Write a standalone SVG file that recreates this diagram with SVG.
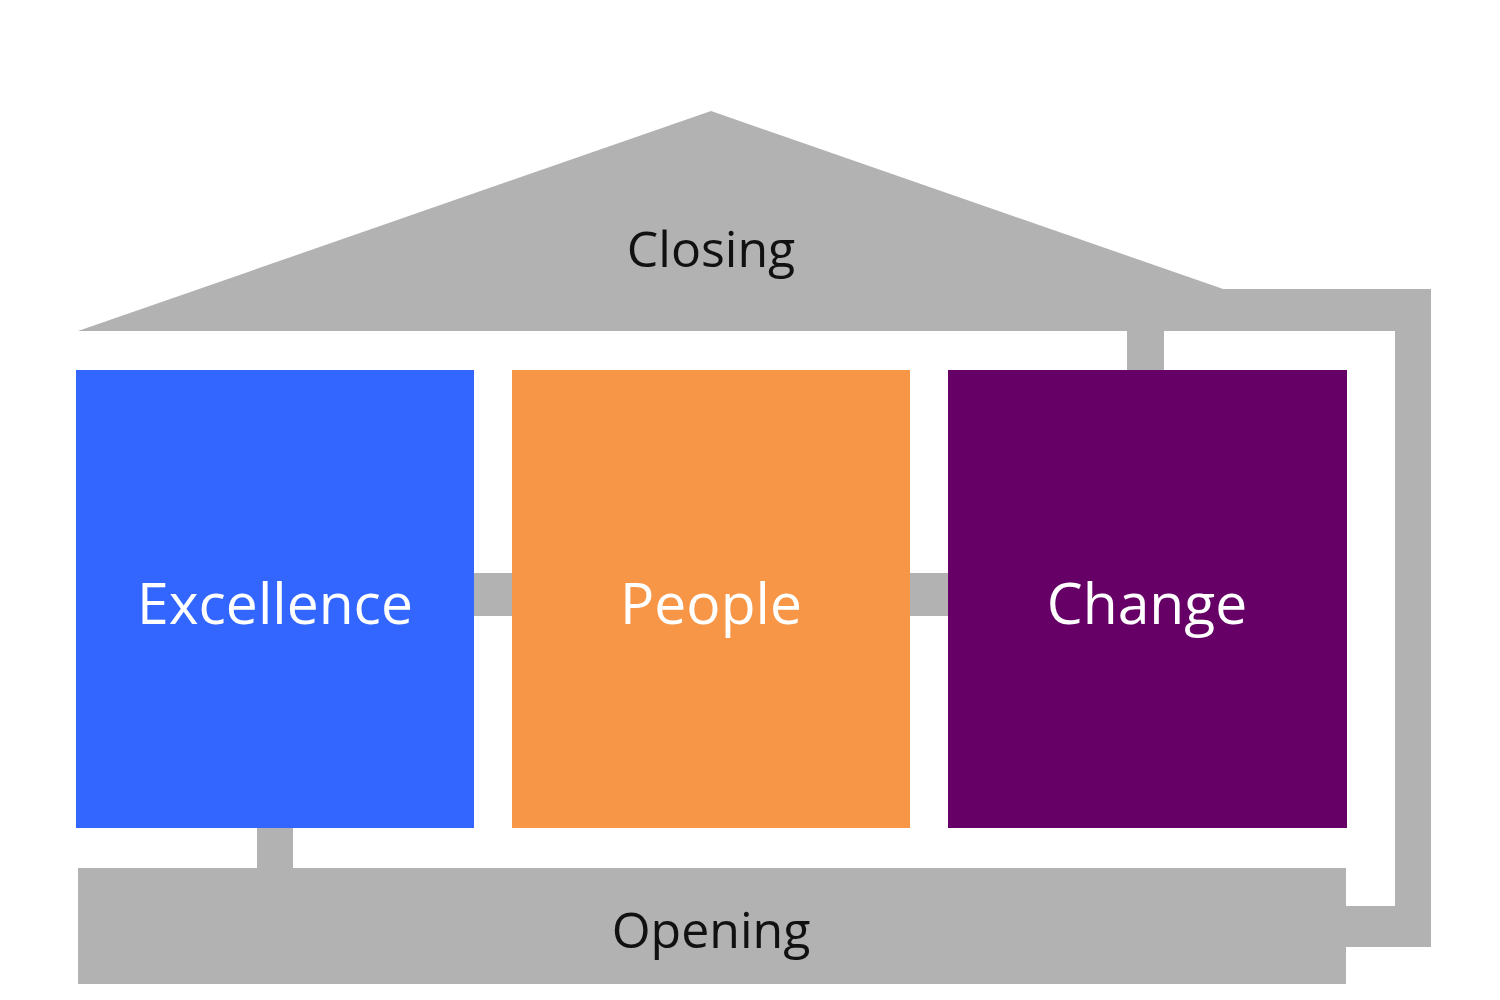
<svg xmlns="http://www.w3.org/2000/svg" width="1500" height="1000" viewBox="0 0 1500 1000">
<style>
.g{fill:#B2B2B2}
.lbl{font-family:"Open Sans","Liberation Sans",sans-serif;text-anchor:middle}
.dark{fill:#111111;font-size:50px}
.light{fill:#FFFFFF;font-size:57px}
</style>
<rect width="1500" height="1000" fill="#FFFFFF"/>
<g id="connectors">
<path class="g" d="M1127,370 V289 H1431 V947 H1346 V906 H1395 V331 H1164 V370 Z"/>
<rect class="g" x="257" y="826" width="36" height="44"/>
<rect class="g" x="472" y="573" width="42" height="43"/>
<rect class="g" x="908" y="573" width="42" height="43"/>
</g>
<g id="closing">
<polygon class="g" points="78,331 711,111 1344,331"/>
<text class="lbl dark" x="711" y="267">Closing</text>
</g>
<g id="opening">
<rect class="g" x="78" y="868" width="1268" height="116"/>
<text class="lbl dark" x="711" y="948">Opening</text>
</g>
<g id="excellence">
<rect x="76" y="370" width="398" height="458" fill="#3366FF"/>
<text class="lbl light" x="275" y="624">Excellence</text>
</g>
<g id="people">
<rect x="512" y="370" width="398" height="458" fill="#F79646"/>
<text class="lbl light" x="711" y="624">People</text>
</g>
<g id="change">
<rect x="948" y="370" width="399" height="458" fill="#660066"/>
<text class="lbl light" x="1147" y="624">Change</text>
</g>
</svg>
